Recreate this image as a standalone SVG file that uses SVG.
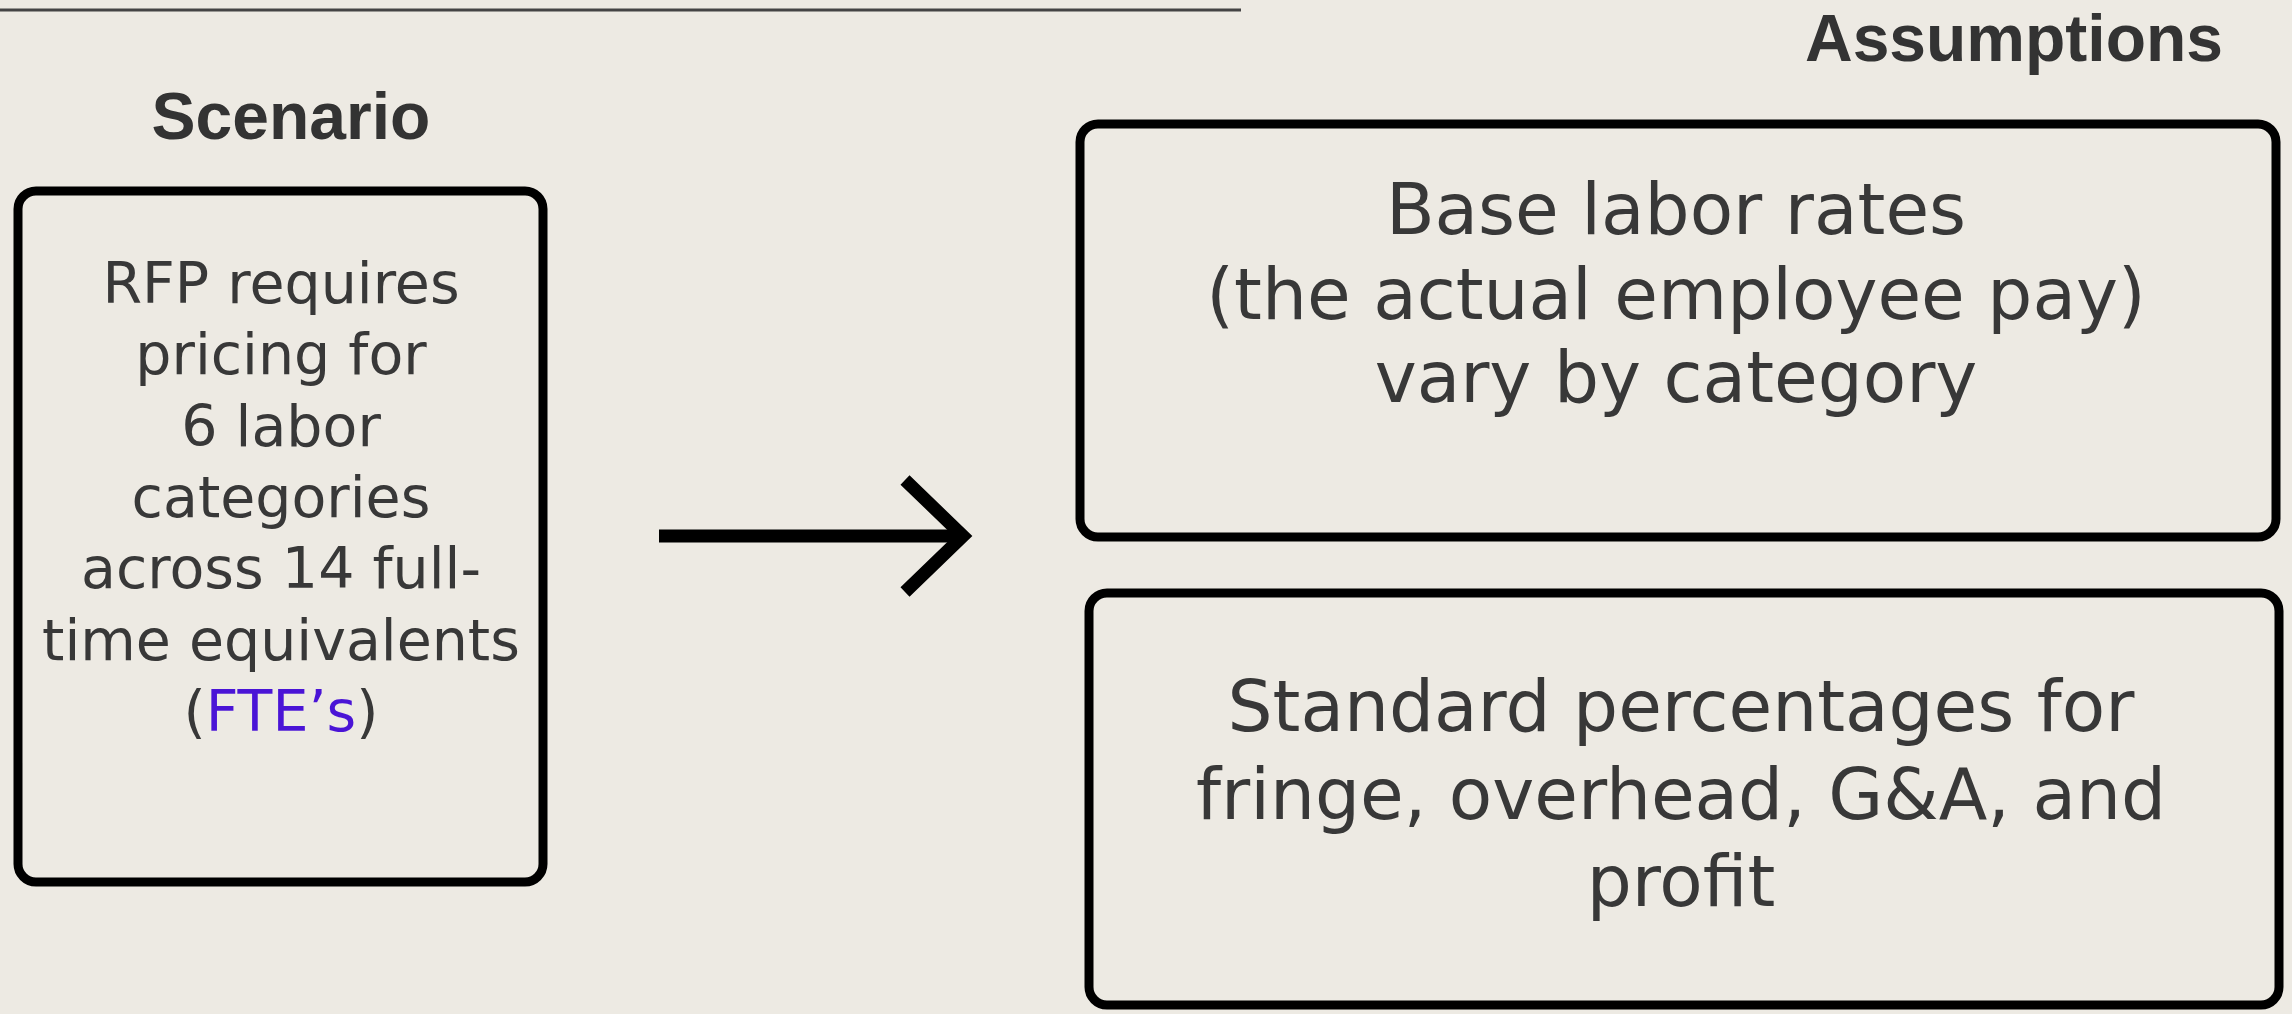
<svg xmlns="http://www.w3.org/2000/svg" width="2292" height="1014" viewBox="0 0 2292 1014">
<style>
.bg{fill:#EDEAE3}
.box{fill:none;stroke:#000;stroke-width:9}
.hdr{font-family:"Liberation Sans",Arial,sans-serif;font-weight:bold;font-size:66px;fill:#333;text-anchor:middle}
.lt{font-family:"DejaVu Sans",sans-serif;font-size:57px;fill:#383838;text-anchor:middle}
.rt{font-family:"DejaVu Sans",sans-serif;font-size:71px;fill:#383838;text-anchor:middle}
.conn{fill:none;stroke:#000;stroke-width:13}
</style>
<rect class="bg" x="0" y="0" width="2292" height="1014"/>
<line x1="0" y1="10" x2="1241" y2="10" stroke="#444" stroke-width="3"/>
<g id="scenario">
<text class="hdr" x="291" y="139">Scenario</text>
<rect class="box" x="18" y="191" width="525" height="691" rx="18"/>
<text class="lt" x="281" y="303">RFP requires</text>
<text class="lt" x="281" y="374">pricing for</text>
<text class="lt" x="281" y="446">6 labor</text>
<text class="lt" x="281" y="517">categories</text>
<text class="lt" x="281" y="588">across 14 full-</text>
<text class="lt" x="281" y="660">time equivalents</text>
<text class="lt" x="281" y="731">(<tspan fill="#4A14D6">FTE’s</tspan>)</text>
</g>
<g id="assumptions-title">
<text class="hdr" x="2014" y="61">Assumptions</text>
</g>
<g id="base-labor">
<rect class="box" x="1080" y="124" width="1196" height="413" rx="18"/>
<text class="rt" x="1676" y="234">Base labor rates</text>
<text class="rt" x="1676" y="319">(the actual employee pay)</text>
<text class="rt" x="1676" y="402">vary by category</text>
</g>
<g id="standard-pct">
<rect class="box" x="1089" y="593" width="1190" height="412" rx="18"/>
<text class="rt" x="1681" y="731">Standard percentages for</text>
<text class="rt" x="1681" y="819">fringe, overhead, G&amp;A, and</text>
<text class="rt" x="1681" y="906">profit</text>
</g>
<g id="connectors">
<line class="conn" x1="659" y1="536" x2="962" y2="536"/>
<polyline class="conn" points="905,480 963,536 905,592" stroke-linejoin="miter"/>
</g>
</svg>
